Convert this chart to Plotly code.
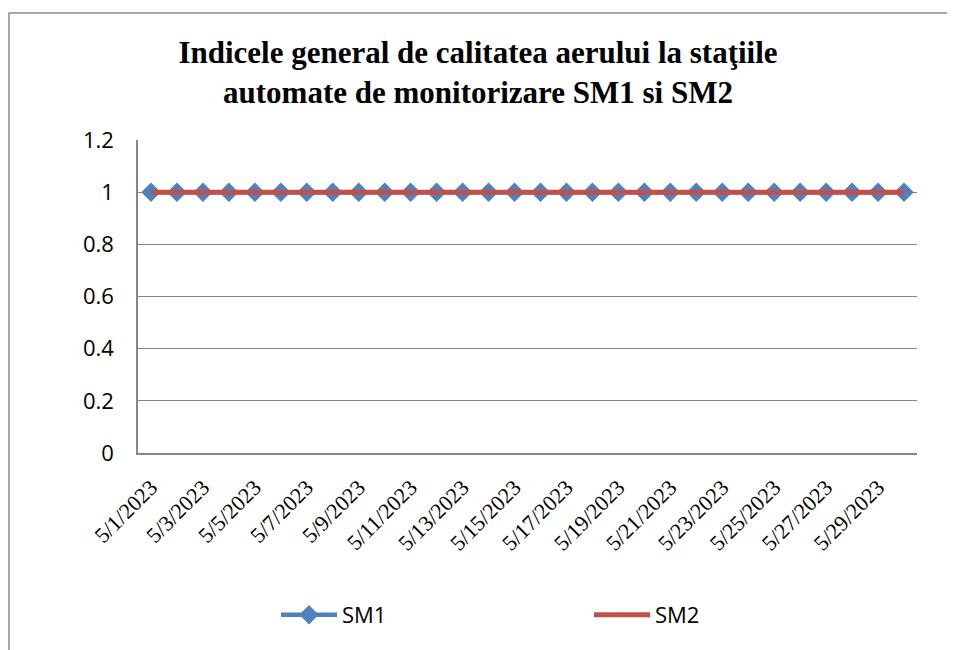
import plotly.graph_objects as go

dates = [f"5/{d}/2023" for d in range(1, 31)]
sm1 = [1] * 30
sm2 = [1] * 30
tick_labels = dates[::2]
title_text = "Indicele general de calitatea aerului la staţiile<br>automate de monitorizare SM1 si SM2"

OFF = 8  # page body margin
W, H = 955 - OFF, 650 - OFF
# plot area in reference pixel coordinates
L, R, T, B = 138, 917, 140, 453

def px_x(p):
    return (p - L) / (R - L)

def px_y(p):
    return (B - p) / (B - T)

def cx(p):
    return (p - OFF) / W

def cy(p):
    return 1 - (p - OFF) / H

fig = go.Figure()
fig.add_trace(go.Scatter(
    x=dates, y=sm1, name="SM1", mode="lines+markers",
    line=dict(color="#4F81BD", width=4.5),
    marker=dict(symbol="diamond", size=15, color="#4F81BD"),
))
fig.add_trace(go.Scatter(
    x=dates, y=sm2, name="SM2", mode="lines",
    line=dict(color="#C0504D", width=5),
))

fig.update_layout(
    width=W, height=H,
    margin=dict(l=L - OFF, r=W - (R - OFF), t=T - OFF, b=H - (B - OFF)),
    paper_bgcolor="white", plot_bgcolor="white",
    title=dict(
        text=title_text, x=cx(478), xref="container", xanchor="center",
        y=cy(63), yref="container", yanchor="top",
        font=dict(family="Liberation Serif", size=31, color="black", weight="bold"),
    ),
    showlegend=True,
    legend=dict(
        orientation="h", xref="container", yref="container",
        x=cx(276), y=cy(615), xanchor="left", yanchor="middle",
        font=dict(family="Open Sans", size=22, color="black"),
        entrywidth=242, entrywidthmode="pixels", itemwidth=56,
        bgcolor="rgba(0,0,0,0)",
    ),
    shapes=[dict(
        type="rect", xref="paper", yref="paper",
        x0=px_x(OFF + 1), x1=px_x(975), y0=px_y(675), y1=px_y(13),
        line=dict(color="#8C8C8C", width=1.5), fillcolor="rgba(0,0,0,0)", layer="below",
    )],
)

fig.update_xaxes(
    type="category", range=[-0.5, 29.5], automargin=False,
    tickmode="array", tickvals=tick_labels, ticktext=tick_labels,
    tickangle=-45, showgrid=False, showline=True, linecolor="#868686", linewidth=1.5,
    ticks="", ticklabelstandoff=11,
    tickfont=dict(family="Liberation Serif", size=22, color="black"),
)
fig.update_yaxes(
    range=[0, 1.2], dtick=0.2, tick0=0, automargin=False,
    showgrid=True, gridcolor="#868686", gridwidth=1,
    showline=True, linecolor="#868686", linewidth=1.5,
    zeroline=False, ticks="outside", ticklen=0, ticklabelstandoff=18,
    tickfont=dict(family="Open Sans", size=22, color="black"),
)

fig.write_html("out.html")
